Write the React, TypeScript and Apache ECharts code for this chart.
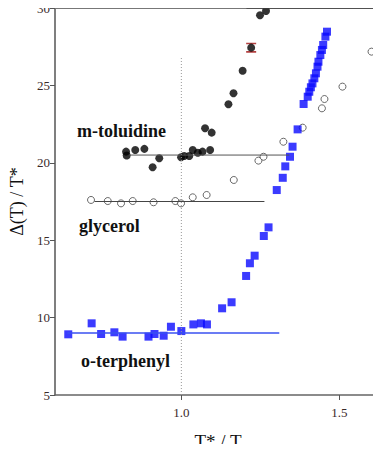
import React, { useEffect, useRef } from "react";
import * as echarts from "echarts";

// ---- data ----
const mToluidine: [number, number][] = [
  [0.825, 20.72], [0.827, 20.47], [0.854, 20.83], [0.883, 20.9], [0.909, 19.71],
  [0.93, 20.29], [0.999, 20.36], [1.009, 20.44], [1.025, 20.44], [1.036, 20.83],
  [1.052, 20.65], [1.067, 20.72], [1.091, 20.83], [1.075, 22.23], [1.096, 21.95],
  [1.149, 23.78], [1.165, 24.49], [1.194, 25.95], [1.221, 27.44], [1.249, 29.53],
  [1.268, 29.81],
];
const mToluidineErr: [number, number][] = [[1.221, 27.44]];

const glycerol: [number, number][] = [
  [0.714, 17.6], [0.767, 17.53], [0.809, 17.38], [0.846, 17.53], [0.912, 17.45],
  [0.981, 17.53], [0.999, 17.38], [1.036, 17.77], [1.08, 17.92], [1.166, 18.89],
  [1.244, 20.14], [1.26, 20.39], [1.323, 21.36], [1.384, 22.27], [1.445, 23.52],
  [1.453, 24.12], [1.51, 24.92], [1.602, 27.18],
];

const oTerphenyl: [number, number][] = [
  [0.642, 8.92], [0.716, 9.63], [0.746, 8.94], [0.788, 9.05], [0.814, 8.77],
  [0.896, 8.77], [0.915, 8.94], [0.944, 8.83], [0.967, 9.41], [1.0, 9.13],
  [1.038, 9.56], [1.062, 9.63], [1.081, 9.56], [1.129, 10.6], [1.159, 10.99],
  [1.205, 12.69], [1.217, 13.51], [1.232, 14.0], [1.261, 15.27], [1.276, 15.83],
  [1.302, 18.24], [1.321, 19.03], [1.329, 19.77], [1.344, 20.39], [1.352, 21.04],
  [1.368, 22.16], [1.387, 23.8], [1.4, 24.27], [1.405, 24.59], [1.41, 24.88],
  [1.415, 25.13], [1.421, 25.46], [1.426, 25.78], [1.431, 26.21], [1.434, 26.53],
  [1.44, 26.96], [1.445, 27.29], [1.449, 27.61], [1.456, 28.15], [1.461, 28.47],
];

// reference (plateau) lines
const mToluidineLine: [number, number][] = [[0.835, 20.5], [1.342, 20.5]];
const glycerolLine: [number, number][] = [[0.725, 17.5], [1.263, 17.5]];
const oTerphenylLine: [number, number][] = [[0.639, 9.0], [1.31, 9.0]];
const topLine: [number, number][] = [[1.206, 30], [1.632, 30]];
const dottedLine: [number, number][] = [[1.0, 5], [1.0, 26.8]];

const xTicks = [1.0, 1.5];
const yMin = 5;
const yMax = 30;
const yStep = 5;
const xMin = 0.6;
const xMax = 1.632;

const serif = "Liberation Serif";

export default function App() {
  const ref = useRef<HTMLDivElement>(null);
  useEffect(() => {
    if (!ref.current) return;
    const chart = echarts.init(ref.current, undefined, { renderer: "svg" });
    const labelStyle = { fontFamily: serif, fontWeight: "bold" as const, fontSize: 18, fill: "#111" };
    chart.setOption({
      animation: false,
      backgroundColor: "#fff",
      textStyle: { fontFamily: serif },
      grid: { left: 55, right: 0, top: 8, bottom: 57, containLabel: false, outerBoundsMode: "none" },
      xAxis: [
        {
          type: "value",
          min: xMin,
          max: xMax,
          name: "T* / T",
          nameLocation: "middle",
          nameGap: 37,
          nameTextStyle: { fontFamily: serif, fontSize: 19, color: "#111" },
          axisLine: { show: true, onZero: false, lineStyle: { color: "#666", width: 1.5 } },
          axisTick: { show: true, inside: false, length: 5, customValues: xTicks, lineStyle: { color: "#555" } },
          axisLabel: {
            customValues: xTicks,
            formatter: (v: number) => v.toFixed(1),
            fontFamily: serif,
            fontSize: 13,
            color: "#3a2a2a",
            margin: 11,
          },
          splitLine: { show: false },
        },
        {
          type: "value",
          position: "top",
          min: xMin,
          max: xMax,
          axisLine: { show: true, onZero: false, lineStyle: { color: "#777", width: 1 } },
          axisTick: { show: false },
          axisLabel: { show: false },
          splitLine: { show: false },
        },
      ],
      yAxis: {
        type: "value",
        min: yMin,
        max: yMax,
        interval: yStep,
        name: "Δ(T) / T*",
        nameLocation: "middle",
        nameGap: 29,
        nameTextStyle: { fontFamily: serif, fontSize: 18, color: "#111" },
        axisLine: { show: true, onZero: false, lineStyle: { color: "#555", width: 1.5 } },
        axisTick: { show: true, inside: false, length: 5, lineStyle: { color: "#555" } },
        axisLabel: { fontFamily: serif, fontSize: 13, color: "#3a2a2a", margin: 5 },
        splitLine: { show: false },
      },
      graphic: [
        { type: "text", left: 77, top: 122, style: { ...labelStyle, text: "m-toluidine" } },
        { type: "text", left: 79, top: 217, style: { ...labelStyle, text: "glycerol" } },
        { type: "text", left: 81, top: 352, style: { ...labelStyle, text: "o-terphenyl" } },
      ],
      series: [
        {
          type: "line",
          data: dottedLine,
          symbol: "none",
          lineStyle: { color: "#999", width: 1, type: [1, 2] },
          silent: true,
        },
        {
          type: "line",
          data: topLine,
          symbol: "none",
          lineStyle: { color: "#444", width: 1.5 },
          silent: true,
        },
        {
          type: "line",
          data: mToluidineLine,
          symbol: "none",
          lineStyle: { color: "#555", width: 1 },
          silent: true,
        },
        {
          type: "line",
          data: glycerolLine,
          symbol: "none",
          lineStyle: { color: "#444", width: 1 },
          silent: true,
        },
        {
          type: "line",
          data: oTerphenylLine,
          symbol: "none",
          lineStyle: { color: "#3a50f0", width: 1.5 },
          silent: true,
        },
        {
          type: "scatter",
          data: glycerol,
          symbol: "circle",
          symbolSize: 7,
          itemStyle: { color: "#fff", borderColor: "#444", borderWidth: 1 },
        },
        {
          type: "scatter",
          data: oTerphenyl,
          symbol: "rect",
          symbolSize: 8,
          itemStyle: { color: "#0a0aff" },
        },
        {
          type: "scatter",
          data: mToluidineErr,
          symbol: "path://M0,0H10V1.6H0Z M0,8.4H10V10H0Z",
          symbolSize: [10, 10],
          itemStyle: { color: "#a01010" },
        },
        {
          type: "scatter",
          data: mToluidine,
          symbol: "circle",
          symbolSize: 8,
          itemStyle: { color: "#000" },
        },
      ],
    });
    return () => chart.dispose();
  }, []);
  return <div ref={ref} style={{ width: 381, height: 452, margin: -8 }} />;
}
